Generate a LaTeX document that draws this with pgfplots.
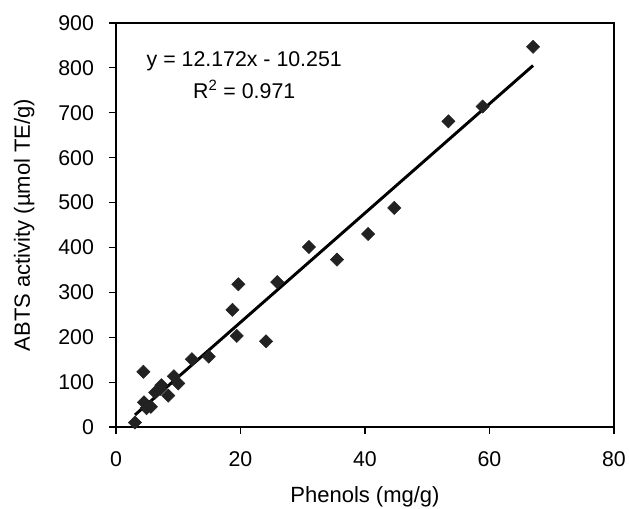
\documentclass[border=0pt]{standalone}
\usepackage{pgfplots}
\pgfplotsset{compat=1.18}
\usepackage{fontspec}
\setmainfont{Liberation Sans}
\definecolor{markgray}{HTML}{222222}

\begin{document}
\begin{tikzpicture}
\path[use as bounding box] (-87pt,-60.75pt) rectangle (384.75pt,320.25pt);
\begin{axis}[
  scale only axis, width=373.5pt, height=303pt,
  xmin=0, xmax=80, ymin=0, ymax=900,
  xtick={0,20,...,80}, ytick={0,100,...,900},
  xtick pos=bottom, ytick pos=left, tick align=outside,
  major tick length=5pt,
  axis line style={line width=1pt}, tick style={line width=0.8pt, black},
  tick label style={font=\fontsize{16}{19}\selectfont},
  /pgf/number format/assume math mode=true,
  xticklabel style={yshift=-10pt},
  yticklabel style={xshift=-8pt},
  xlabel={Phenols (mg/g)}, ylabel={ABTS activity (µmol TE/g)},
  label style={font=\fontsize{16.5}{19}\selectfont},
  xlabel style={yshift=-8pt},
  ylabel style={yshift=11pt},
]
\addplot[only marks, mark=square*, mark size=3.5pt,
  mark options={rotate=45, fill=markgray, draw=markgray}]
  coordinates {
  (3.05,10) (4.4,123) (4.5,55) (4.9,42) (5.6,45) (6.3,77) (7.1,85)
  (7.3,93) (8.4,70) (9.3,113) (10.0,97) (12.2,151) (14.9,157)
  (18.7,261) (19.4,203) (19.65,318) (24.1,191) (25.9,323) (31.0,401)
  (35.5,373) (40.5,430) (44.7,488) (53.4,681) (58.9,714) (67.0,847)
  };
\addplot[black, line width=2.2pt] coordinates {(3.05,26.9) (67.0,805.3)};
\node[font=\fontsize{16}{19}\selectfont, align=center] at (axis cs:20.6,783)
  {y = 12.172x - 10.251\\[5pt]R\textsuperscript{2} = 0.971};
\end{axis}
\end{tikzpicture}
\end{document}
